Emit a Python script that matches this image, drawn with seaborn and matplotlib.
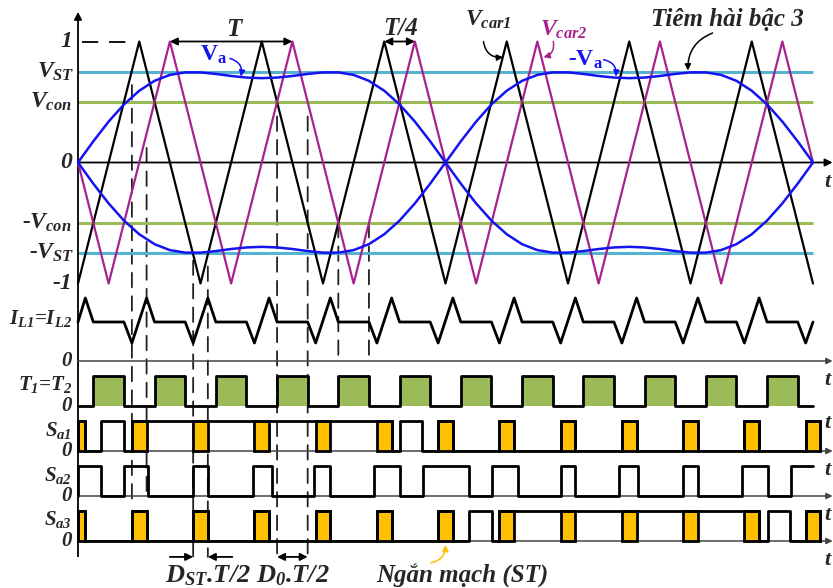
import numpy as np
import seaborn as sns
import matplotlib.pyplot as plt
from matplotlib.patches import ConnectionPatch

# time axis in carrier periods T, the sketch covers 6 T (one period of Va)
car1_t = [0, 0.5, 1, 1.5, 2, 2.5, 3, 3.5, 4, 4.5, 5, 5.5, 6]
car1_v = [-1, 1, -1, 1, -1, 1, -1, 1, -1, 1, -1, 1, -1]
car2_t = [0, 0.25, 0.75, 1.25, 1.75, 2.25, 2.75, 3.25, 3.75, 4.25, 4.75, 5.25, 5.75, 6]
car2_v = [0, -1, 1, -1, 1, -1, 1, -1, 1, -1, 1, -1, 1, 0]

# Va (sine + 3rd harmonic) read every T/8 over the positive half wave
va_step = 0.125
va_half = [0, 0.175, 0.338, 0.480, 0.593, 0.675, 0.724, 0.745, 0.745, 0.732, 0.715, 0.702, 0.697,
           0.702, 0.715, 0.732, 0.745, 0.745, 0.724, 0.675, 0.593, 0.480, 0.338, 0.175, 0]
v_st = 0.75
v_con = 0.5
t_end = 6

# inductor current
il_t = [0, 0.06, 0.125,
        0.375, 0.44, 0.56, 0.625, 0.875, 0.94, 1.06, 1.125,
        1.375, 1.44, 1.56, 1.625, 1.875, 1.94, 2.06, 2.125,
        2.375, 2.44, 2.56, 2.625, 2.875, 2.94, 3.06, 3.125,
        3.375, 3.44, 3.56, 3.625, 3.875, 3.94, 4.06, 4.125,
        4.375, 4.44, 4.56, 4.625, 4.875, 4.94, 5.06, 5.125,
        5.375, 5.44, 5.56, 5.625, 5.875, 5.94, 6.0]
il_v = [1.3, 2.1, 1.3,
        1.3, 0.6, 2.1, 1.3, 1.3, 0.6, 2.1, 1.3,
        1.3, 0.6, 2.1, 1.3, 1.3, 0.6, 2.1, 1.3,
        1.3, 0.6, 2.1, 1.3, 1.3, 0.6, 2.1, 1.3,
        1.3, 0.6, 2.1, 1.3, 1.3, 0.6, 2.1, 1.3,
        1.3, 0.6, 2.1, 1.3, 1.3, 0.6, 2.1, 1.3,
        1.3, 0.6, 2.1, 1.3, 1.3, 0.6, 1.3]

# switching signals: (on, off) intervals
t1_on = [(0.125, 0.375), (0.625, 0.875), (1.125, 1.375), (1.625, 1.875), (2.125, 2.375), (2.625, 2.875),
         (3.125, 3.375), (3.625, 3.875), (4.125, 4.375), (4.625, 4.875), (5.125, 5.375), (5.625, 5.875)]
st_on = [(0, 0.06), (0.44, 0.56), (0.94, 1.06), (1.44, 1.56), (1.94, 2.06), (2.44, 2.56), (2.94, 3.06),
         (3.44, 3.56), (3.94, 4.06), (4.44, 4.56), (4.94, 5.06), (5.44, 5.56), (5.94, 6.06)]
sa1_on = [(0, 0.06), (0.19, 0.375), (0.44, 2.56), (2.63, 2.81), (2.94, 3.06), (3.44, 3.56),
          (3.94, 4.06), (4.44, 4.56), (4.94, 5.06), (5.44, 5.56), (5.94, 6.06)]
sa2_on = [(0, 0.19), (0.375, 0.57), (0.94, 1.06), (1.43, 1.58), (1.93, 2.06), (2.42, 2.63), (2.82, 3.19),
          (3.38, 3.59), (3.94, 4.06), (4.42, 4.57), (4.94, 5.06), (5.42, 5.63), (5.82, 6.0)]
sa3_on = [(0, 0.06), (0.44, 0.56), (0.94, 1.06), (1.44, 1.56), (1.94, 2.06), (2.44, 2.56), (2.94, 3.06),
          (3.19, 3.38), (3.44, 5.56), (5.63, 5.81), (5.94, 6.06)]

BLUE = "#1414F0"
MAG = "#A8228F"
CYAN = "#55B4D0"
GREEN = "#9BBB59"
YEL = "#FFC000"

sns.set_style("white")
plt.rcParams["font.family"] = ["Liberation Serif", "DejaVu Serif"]
plt.rcParams["font.style"] = "italic"
plt.rcParams["font.weight"] = "bold"
plt.rcParams["mathtext.fontset"] = "custom"
plt.rcParams["mathtext.rm"] = "Liberation Serif:style=italic:weight=bold"
plt.rcParams["mathtext.it"] = "Liberation Serif:style=italic:weight=bold"
plt.rcParams["mathtext.bf"] = "Liberation Serif:style=normal:weight=bold"

fig = plt.figure(figsize=(8.33, 5.88), dpi=100)
ax = fig.add_axes([0, 1 - 290 / 588, 1, 290 / 588])
bx = fig.add_axes([0, 0, 1, 298 / 588])
for a in (ax, bx):
    a.set_xlim(-78 / 122.5, 755 / 122.5)
    a.axis("off")
ax.set_ylim(-127.5 / 121, 162.5 / 121)
bx.set_ylim(-47 / 30, 251 / 30)
x_arrow = 6.16
x_t = 6.09

arr = dict(arrowstyle="-|>", color="k", lw=1.3, shrinkA=0, shrinkB=0, mutation_scale=11)

# ---- top panel: carriers and reference ----
for lv, col in [(v_st, CYAN), (v_con, GREEN), (-v_con, GREEN), (-v_st, CYAN)]:
    ax.hlines(lv, 0, t_end, color=col, lw=2.2, zorder=1)
ax.annotate("", xy=(x_arrow, 0), xytext=(0, 0), arrowprops=arr)
ax.annotate("", xy=(0, 1.245), xytext=(0, ax.get_ylim()[0]), arrowprops=arr)
bx.vlines(0, -0.53, bx.get_ylim()[1], color="k", lw=1.3)

va = np.array(va_half + [-v for v in va_half[1:]])
va_t = np.arange(len(va)) * va_step
sns.lineplot(x=car1_t, y=car1_v, ax=ax, color="k", lw=1.6, sort=False, estimator=None, zorder=3)
sns.lineplot(x=car2_t, y=car2_v, ax=ax, color=MAG, lw=1.6, sort=False, estimator=None, zorder=3)
sns.lineplot(x=va_t, y=va, ax=ax, color=BLUE, lw=1.8, sort=False, estimator=None, zorder=4)
sns.lineplot(x=va_t, y=-va, ax=ax, color=BLUE, lw=1.8, sort=False, estimator=None, zorder=4)

ax.hlines(1, 0.03, 0.45, color="k", lw=1.3, linestyles=(0, (9, 6)))
dbl = dict(arrowstyle="<|-|>", color="k", lw=1.3, shrinkA=0, shrinkB=0, mutation_scale=11)
ax.annotate("", xy=(0.75, 1), xytext=(1.75, 1), arrowprops=dbl)
ax.annotate("", xy=(2.5, 1), xytext=(2.75, 1), arrowprops=dbl)
ax.text(1.27, 1.1, "T", fontsize=18, ha="center", va="center")
ax.text(2.63, 1.11, "T/4", fontsize=18, ha="center", va="center")

lab = dict(fontsize=17, ha="right", va="center")
ax.text(-0.05, 1, "1", **lab)
ax.text(-0.03, v_st, r"$V_{ST}$", **lab)
ax.text(-0.05, v_con, r"$V_{con}$", **lab)
ax.text(-0.05, 0, "0", **lab)
ax.text(-0.05, -v_con, r"-$V_{con}$", **lab)
ax.text(-0.03, -v_st, r"-$V_{ST}$", **lab)
ax.text(-0.05, -1, "-1", **lab)

curv = dict(arrowstyle="-|>", lw=1.1, shrinkA=0, shrinkB=0, mutation_scale=9)
ax.text(1.0, 0.89, r"$\mathbf{V}_\mathbf{a}$", color=BLUE, fontsize=17, va="center")
ax.annotate("", xy=(1.33, 0.71), xytext=(1.24, 0.86),
            arrowprops=dict(curv, color=BLUE, connectionstyle="arc3,rad=-0.45"))
ax.text(4.0, 0.85, r"-$\mathbf{V}_\mathbf{a}$", color=BLUE, fontsize=17, va="center")
ax.annotate("", xy=(4.39, 0.71), xytext=(4.29, 0.85),
            arrowprops=dict(curv, color=BLUE, connectionstyle="arc3,rad=-0.45"))
ax.text(3.16, 1.18, r"$V_{car1}$", fontsize=17, va="center")
ax.annotate("", xy=(3.47, 0.87), xytext=(3.31, 1.0),
            arrowprops=dict(curv, color="k", connectionstyle="arc3,rad=0.45"))
ax.text(3.77, 1.1, r"$V_{car2}$", color=MAG, fontsize=17, va="center")
ax.annotate("", xy=(3.80, 0.87), xytext=(3.88, 1.0),
            arrowprops=dict(curv, color=MAG, connectionstyle="arc3,rad=-0.45"))
ax.text(5.3, 1.18, "Tiêm hài bậc 3", fontsize=18, ha="center", va="center")
ax.annotate("", xy=(4.98, 0.76), xytext=(5.18, 1.07),
            arrowprops=dict(curv, color="k", connectionstyle="arc3,rad=0.35"))
ax.text(x_t, -0.16, "t", fontsize=16, va="center")


# ---- lower panels ----
def steps(highs, base, t1):
    xs, ys = [], []
    cur = 0
    for a, b in highs:
        if a > cur:
            xs += [cur, a]
            ys += [base, base]
        if b == t1:
            # signal still on at the end of the sketch
            xs += [a, a, b]
            ys += [base, base + 1, base + 1]
        else:
            xs += [a, a, b, b]
            ys += [base, base + 1, base + 1, base]
        cur = b
    if cur < t1:
        xs += [cur, t1]
        ys += [base, base]
    return xs, ys


rows = {"il": 6.0, "t1": 4.5, "sa1": 3.0, "sa2": 1.5, "sa3": 0.0}
for key in ("il", "sa1", "sa2", "sa3"):
    bx.annotate("", xy=(x_arrow, rows[key]), xytext=(0, rows[key]),
                arrowprops=dict(arrowstyle="-|>", color="#444444", lw=1.1, shrinkA=0, shrinkB=0,
                                mutation_scale=9))

sns.lineplot(x=il_t, y=np.array(il_v) + rows["il"], ax=bx, color="k", lw=2, sort=False,
             estimator=None)

bx.bar([a for a, b in t1_on], 1, width=[b - a for a, b in t1_on], bottom=rows["t1"], align="edge",
       color=GREEN, edgecolor="none", zorder=2)
for key, highs in (("sa1", st_on), ("sa3", st_on)):
    bx.bar([a for a, b in highs], 1, width=[b - a for a, b in highs], bottom=rows[key], align="edge",
           color=YEL, edgecolor="k", lw=2, zorder=3)
for key, highs in (("t1", t1_on), ("sa1", sa1_on), ("sa2", sa2_on), ("sa3", sa3_on)):
    xs, ys = steps(highs, rows[key], t_end)
    sns.lineplot(x=xs, y=ys, ax=bx, color="k", lw=2, sort=False, estimator=None, zorder=4)

lab2 = dict(fontsize=15, ha="right", va="center")
bx.text(-0.05, 7.43, r"$I_{L1}$=$I_{L2}$", **lab2)
bx.text(-0.05, rows["il"], "0", **lab2)
bx.text(-0.05, 5.23, r"$T_1$=$T_2$", **lab2)
bx.text(-0.05, rows["t1"], "0", **lab2)
bx.text(-0.05, 3.67, r"$S_{a1}$", **lab2)
bx.text(-0.05, rows["sa1"], "0", **lab2)
bx.text(-0.05, 2.2, r"$S_{a2}$", **lab2)
bx.text(-0.05, rows["sa2"], "0", **lab2)
bx.text(-0.05, 0.7, r"$S_{a3}$", **lab2)
bx.text(-0.05, rows["sa3"], "0", **lab2)
for yy in (5.37, 3.93, 2.37, 0.87, -0.63):
    bx.text(x_t, yy, "t", fontsize=16, va="center")

# dashed guides through both panels
guides = [(0.44, 0.64, 1.37), (0.56, 0.12, 1.37), (0.94, -0.81, -0.53), (1.06, -0.86, -0.53),
          (1.625, 0.38, -0.63), (1.875, 0.38, -0.63), (2.125, -0.5, 5.97), (2.375, -0.5, 5.97)]
for tx, ytop, ybot in guides:
    cp = ConnectionPatch(xyA=(tx, ytop), coordsA=ax.transData, xyB=(tx, ybot), coordsB=bx.transData,
                         color="#222222", lw=1.3, linestyle=(0, (8, 5)), zorder=0)
    fig.add_artist(cp)

bx.annotate("", xy=(0.94, -0.53), xytext=(0.75, -0.53), arrowprops=arr)
bx.annotate("", xy=(1.06, -0.53), xytext=(1.26, -0.53), arrowprops=arr)
bx.annotate("", xy=(1.625, -0.53), xytext=(1.875, -0.53), arrowprops=dbl)
bx.text(1.06, -1.15, r"$D_{ST}$.T/2", fontsize=19, ha="center", va="center")
bx.text(1.75, -1.15, r"$D_0$.T/2", fontsize=19, ha="center", va="center")
bx.text(3.14, -1.15, "Ngắn mạch (ST)", fontsize=18, ha="center", va="center")
bx.annotate("", xy=(3.0, -0.13), xytext=(2.88, -0.73),
            arrowprops=dict(curv, color=YEL, connectionstyle="arc3,rad=0.4"))

fig.savefig("out.png", dpi=100)
